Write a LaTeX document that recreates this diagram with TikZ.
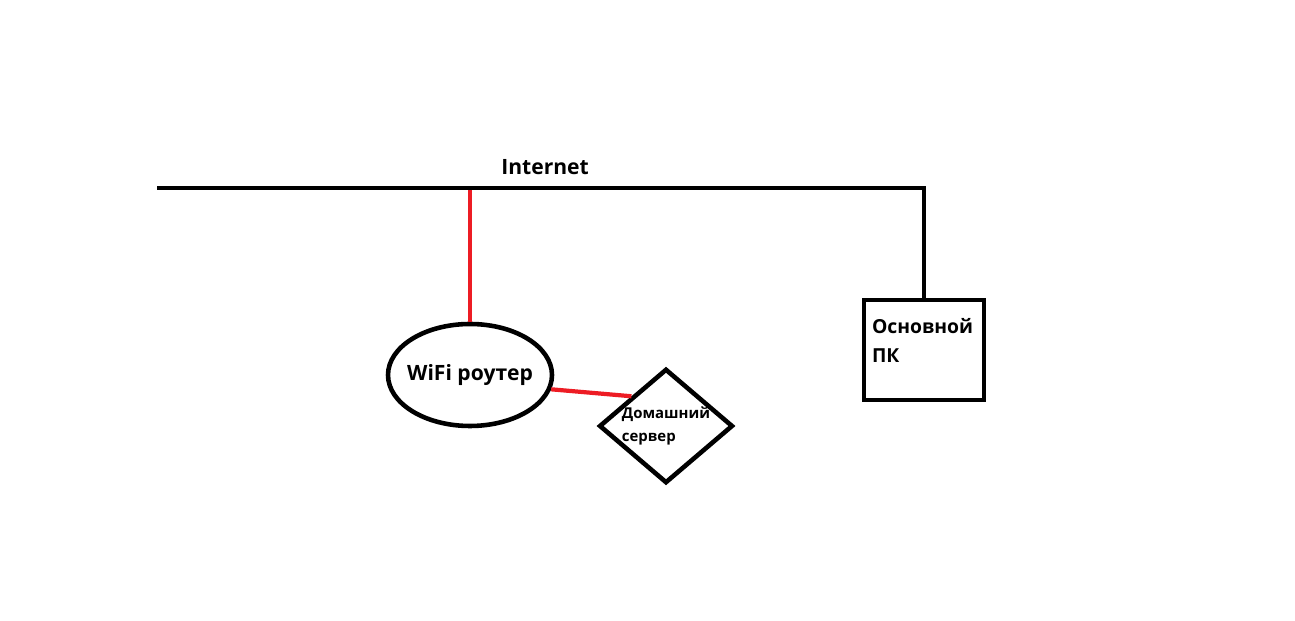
\documentclass[tikz,border=0pt]{standalone}
\usepackage{fontspec}
\setmainfont{Open Sans}
\usetikzlibrary{shapes.geometric, positioning, calc}

\begin{document}
\begin{tikzpicture}[
        hub/.style={ellipse, draw=black, line width=2.6pt, inner xsep=-4pt, inner ysep=0pt, minimum width=3.28cm, minimum height=2.04cm, font=\fontsize{12}{15}\selectfont\bfseries},
        srv/.style={diamond, draw=black, line width=2.6pt, inner sep=0pt, shape aspect=1.17, minimum width=2.5cm, minimum height=2.12cm, align=left, font=\fontsize{8.5}{13.5}\selectfont\bfseries},
        pcbox/.style={rectangle, draw=black, line width=2.6pt, minimum width=2.4cm, minimum height=2cm, inner xsep=0.16cm, inner ysep=0pt, text width=2.08cm, align=left, text depth=0.96cm, font=\fontsize{11}{16.5}\selectfont\bfseries},
        wire/.style={line width=2.6pt, draw=black},
        link/.style={line width=2.4pt, draw={rgb,255:red,237;green,28;blue,36}},
        tag/.style={font=\fontsize{12}{15}\selectfont\bfseries, inner sep=3pt}
    ]
        \useasboundingbox (0, 0) rectangle (25.9, 12.42);
        \node[hub] (router) at (9.40, 4.92) {WiFi роутер};
        \node[srv] (server) at (13.32, 3.90) {Домашний\\сервер};
        \node[pcbox] (pc) at (18.48, 5.42) {Основной\\ПК};
        \coordinate (inet-l) at (3.14, 8.66);
        \coordinate (inet-r) at (pc.north |- inet-l);
        \draw[link] (router.north) -- (router.north |- inet-l);
        \draw[link] (router.-10) -- (server.north west);
        \draw[wire] (inet-l) -- node[pos=0.506, above=0.12cm, tag] {Internet} (inet-r) -- (pc.north);
    \end{tikzpicture}
\end{document}
